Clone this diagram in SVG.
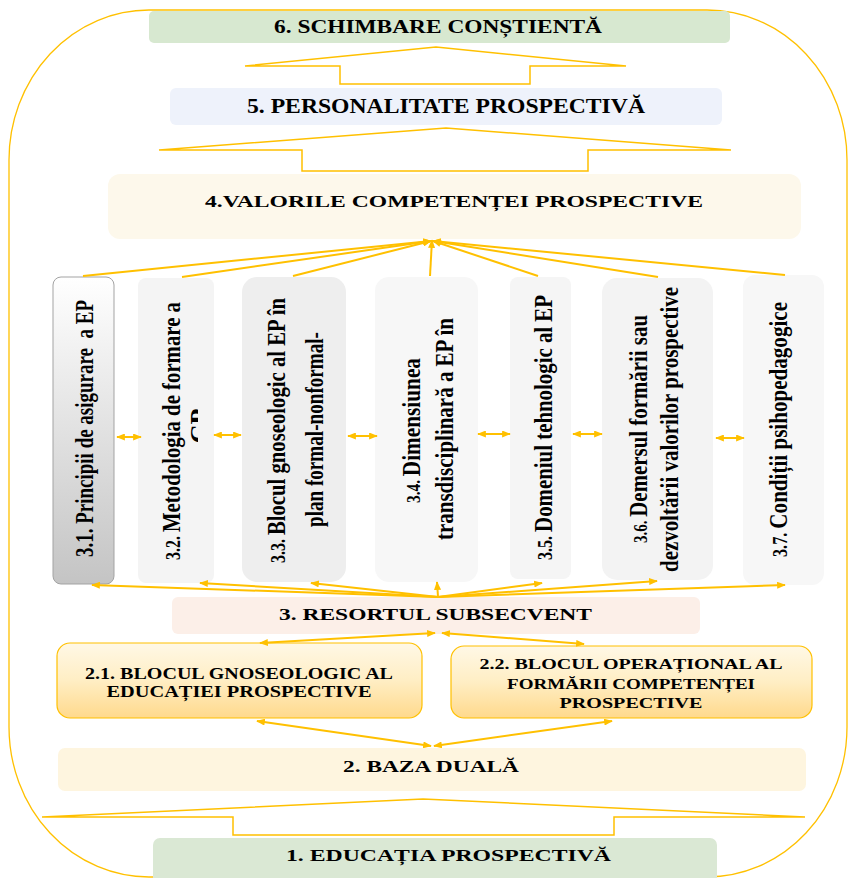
<svg xmlns="http://www.w3.org/2000/svg" width="850" height="878" viewBox="0 0 850 878">
<defs>
<style>
.t{font-family:"Liberation Serif","Times New Roman",serif;font-weight:bold;fill:#000;}
.gold{fill:none;stroke:#FFC000;}
.blk{fill:#fff;stroke:#FFC000;stroke-width:1.5;}
.ln{stroke:#FFC000;stroke-width:2;fill:none;}
</style>
<marker id="ah" viewBox="0 0 10 8" refX="9" refY="4" markerWidth="9" markerHeight="7" markerUnits="userSpaceOnUse" orient="auto-start-reverse">
<path d="M0,0 L10,4 L0,8 z" fill="#FFC000"/>
</marker>
<linearGradient id="g31" x1="0" y1="0" x2="0" y2="1">
<stop offset="0" stop-color="#ffffff"/>
<stop offset="1" stop-color="#c4c4c4"/>
</linearGradient>
<linearGradient id="g2x" x1="0" y1="0" x2="0" y2="1">
<stop offset="0" stop-color="#fff8e6"/>
<stop offset="0.5" stop-color="#ffeec4"/>
<stop offset="1" stop-color="#ffd98c"/>
</linearGradient>
<clipPath id="c32"><rect x="138" y="278" width="60" height="305"/></clipPath>
</defs>

<rect x="9" y="10" width="838" height="867" rx="140" ry="150" class="gold" stroke-width="1.3"/>

<g id="arrows-block">
<polygon class="blk" points="245,66 436,47 626,66 530,66 530,84 340,84 340,66"/>
<polygon class="blk" points="159,150 446,128 731,150 588,150 588,171 302,171 302,150"/>
<polygon class="blk" points="42,817 423,799 805,817 614,817 614,835 233,835 233,817"/>
</g>

<g id="n6">
<rect x="149" y="11" width="581" height="32" rx="5" fill="#d7e8d0"/>
<text class="t" x="438" y="33.3" font-size="18" text-anchor="middle" textLength="328" lengthAdjust="spacingAndGlyphs">6. SCHIMBARE CONȘTIENTĂ</text>
</g>
<g id="n5">
<rect x="170" y="88" width="552" height="37" rx="6" fill="#eef2fb"/>
<text class="t" x="446" y="112.7" font-size="20" text-anchor="middle" textLength="398" lengthAdjust="spacingAndGlyphs">5. PERSONALITATE PROSPECTIVĂ</text>
</g>
<g id="n4">
<rect x="108" y="174" width="693" height="65" rx="12" fill="#fdf8eb"/>
<text class="t" x="454" y="206.7" font-size="17.5" text-anchor="middle" textLength="498" lengthAdjust="spacingAndGlyphs">4.VALORILE COMPETENȚEI PROSPECTIVE</text>
</g>

<g id="n31">
<rect x="53" y="277" width="61" height="307" rx="8" fill="url(#g31)" stroke="#a3a3a3" stroke-width="1"/>
<text class="t" xml:space="preserve" transform="translate(93,428.5) rotate(-90)" font-size="25" text-anchor="middle" textLength="257" lengthAdjust="spacingAndGlyphs">3.1. Principii de asigurare  a EP</text>
</g>
<g id="n32">
<rect x="138" y="278" width="76" height="305" rx="8" fill="#f4f4f4"/>
<text class="t" transform="translate(180,431) rotate(-90)" font-size="26" text-anchor="middle" textLength="258" lengthAdjust="spacingAndGlyphs"><tspan font-size="20">3.2. </tspan>Metodologia de formare a</text>
<g clip-path="url(#c32)"><text class="t" transform="translate(208,426) rotate(-90)" font-size="26" text-anchor="middle">CP</text></g>
</g>
<g id="n33">
<rect x="242" y="277" width="104" height="305" rx="15" fill="#eeeeee"/>
<text class="t" transform="translate(285,430.5) rotate(-90)" font-size="26" text-anchor="middle" textLength="265" lengthAdjust="spacingAndGlyphs"><tspan font-size="20">3.3. </tspan>Blocul gnoseologic al EP în</text>
<text class="t" transform="translate(323,429.5) rotate(-90)" font-size="26" text-anchor="middle" textLength="195" lengthAdjust="spacingAndGlyphs">plan formal-nonformal-</text>
</g>
<g id="n34">
<rect x="375" y="277" width="103" height="305" rx="14" fill="#f7f7f7"/>
<text class="t" transform="translate(420,430.5) rotate(-90)" font-size="25" text-anchor="middle" textLength="145" lengthAdjust="spacingAndGlyphs"><tspan font-size="18">3.4. </tspan>Dimensiunea</text>
<text class="t" transform="translate(453,429) rotate(-90)" font-size="25" text-anchor="middle" textLength="222" lengthAdjust="spacingAndGlyphs">transdisciplinară a EP în</text>
</g>
<g id="n35">
<rect x="510" y="277" width="61" height="302" rx="8" fill="#f5f5f5"/>
<text class="t" transform="translate(552,427.5) rotate(-90)" font-size="26" text-anchor="middle" textLength="265" lengthAdjust="spacingAndGlyphs"><tspan font-size="20">3.5. </tspan>Domeniul tehnologic al EP</text>
</g>
<g id="n36">
<rect x="602" y="278" width="111" height="302" rx="15" fill="#f3f3f3"/>
<text class="t" transform="translate(647,429) rotate(-90)" font-size="25" text-anchor="middle" textLength="228" lengthAdjust="spacingAndGlyphs"><tspan font-size="18">3.6. </tspan>Demersul formării sau</text>
<text class="t" transform="translate(678,429.5) rotate(-90)" font-size="25" text-anchor="middle" textLength="285" lengthAdjust="spacingAndGlyphs">dezvoltării valorilor prospective</text>
</g>
<g id="n37">
<rect x="743" y="275" width="81" height="310" rx="12" fill="#f7f7f7"/>
<text class="t" transform="translate(787,429.5) rotate(-90)" font-size="26" text-anchor="middle" textLength="255" lengthAdjust="spacingAndGlyphs"><tspan font-size="20">3.7. </tspan>Condiții psihopedagogice</text>
</g>

<g id="n3">
<rect x="172" y="597" width="528" height="37" rx="6" fill="#fcefe8"/>
<text class="t" x="435.5" y="620" font-size="17" text-anchor="middle" textLength="313" lengthAdjust="spacingAndGlyphs">3. RESORTUL SUBSECVENT</text>
</g>
<g id="n21">
<rect x="57" y="643" width="365" height="75" rx="13" fill="url(#g2x)" stroke="#FFC000" stroke-width="1.2"/>
<text class="t" x="239" y="679" font-size="16" text-anchor="middle" textLength="308" lengthAdjust="spacingAndGlyphs">2.1. BLOCUL GNOSEOLOGIC AL</text>
<text class="t" x="239" y="697" font-size="16" text-anchor="middle" textLength="265" lengthAdjust="spacingAndGlyphs">EDUCAȚIEI PROSPECTIVE</text>
</g>
<g id="n22">
<rect x="451" y="646" width="361" height="72" rx="13" fill="url(#g2x)" stroke="#FFC000" stroke-width="1.2"/>
<text class="t" x="631" y="669" font-size="15" text-anchor="middle" textLength="303" lengthAdjust="spacingAndGlyphs">2.2. BLOCUL OPERAȚIONAL AL</text>
<text class="t" x="631" y="689" font-size="15" text-anchor="middle" textLength="248" lengthAdjust="spacingAndGlyphs">FORMĂRII COMPETENȚEI</text>
<text class="t" x="631" y="708" font-size="15" text-anchor="middle" textLength="143" lengthAdjust="spacingAndGlyphs">PROSPECTIVE</text>
</g>
<g id="n2">
<rect x="58" y="748" width="748" height="43" rx="7" fill="#fef5df"/>
<text class="t" x="431" y="772" font-size="16" text-anchor="middle" textLength="176" lengthAdjust="spacingAndGlyphs">2. BAZA DUALĂ</text>
</g>
<g id="n1">
<rect x="153" y="838" width="564" height="48" rx="7" fill="#dae8d4"/>
<text class="t" x="448.5" y="861" font-size="17" text-anchor="middle" textLength="325" lengthAdjust="spacingAndGlyphs">1. EDUCAȚIA PROSPECTIVĂ</text>
</g>

<g id="connectors">
<line class="ln" x1="83" y1="276" x2="431" y2="241" marker-end="url(#ah)"/>
<line class="ln" x1="182" y1="277" x2="431" y2="241" marker-end="url(#ah)"/>
<line class="ln" x1="293" y1="276" x2="431" y2="241" marker-end="url(#ah)"/>
<line class="ln" x1="430" y1="276" x2="432" y2="240" marker-end="url(#ah)"/>
<line class="ln" x1="538" y1="276" x2="433" y2="241" marker-end="url(#ah)"/>
<line class="ln" x1="658" y1="277" x2="433" y2="241" marker-end="url(#ah)"/>
<line class="ln" x1="785" y1="275" x2="433" y2="241" marker-end="url(#ah)"/>

<line class="ln" x1="117" y1="437" x2="141" y2="437" marker-start="url(#ah)" marker-end="url(#ah)"/>
<line class="ln" x1="214" y1="435" x2="241" y2="435" marker-start="url(#ah)" marker-end="url(#ah)"/>
<line class="ln" x1="348" y1="436" x2="377" y2="436" marker-start="url(#ah)" marker-end="url(#ah)"/>
<line class="ln" x1="478" y1="434" x2="510" y2="434" marker-start="url(#ah)" marker-end="url(#ah)"/>
<line class="ln" x1="573" y1="434" x2="602" y2="434" marker-start="url(#ah)" marker-end="url(#ah)"/>
<line class="ln" x1="716" y1="438" x2="744" y2="438" marker-start="url(#ah)" marker-end="url(#ah)"/>

<line class="ln" x1="438" y1="597" x2="92" y2="585" marker-end="url(#ah)"/>
<line class="ln" x1="438" y1="597" x2="200" y2="583" marker-end="url(#ah)"/>
<line class="ln" x1="438" y1="597" x2="311" y2="583" marker-end="url(#ah)"/>
<line class="ln" x1="438" y1="597" x2="437" y2="582" marker-end="url(#ah)"/>
<line class="ln" x1="438" y1="597" x2="542" y2="583" marker-end="url(#ah)"/>
<line class="ln" x1="438" y1="597" x2="657" y2="581" marker-end="url(#ah)"/>
<line class="ln" x1="438" y1="597" x2="785" y2="585" marker-end="url(#ah)"/>

<line class="ln" x1="435" y1="633" x2="260" y2="643" marker-start="url(#ah)" marker-end="url(#ah)"/>
<line class="ln" x1="442" y1="633" x2="584" y2="644" marker-start="url(#ah)" marker-end="url(#ah)"/>

<line class="ln" x1="257" y1="721" x2="431" y2="746" marker-start="url(#ah)" marker-end="url(#ah)"/>
<line class="ln" x1="612" y1="721" x2="434" y2="746" marker-start="url(#ah)" marker-end="url(#ah)"/>
</g>
</svg>
